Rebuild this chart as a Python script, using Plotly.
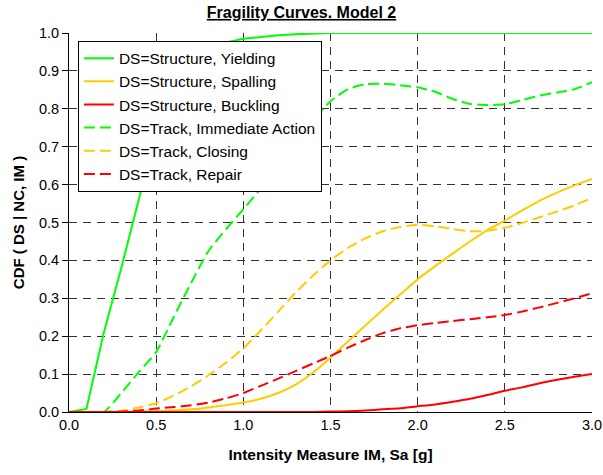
import plotly.graph_objects as go

im = [round(i * 0.1, 1) for i in range(31)]

yielding = [0, 0.008, 0.21, 0.38, 0.56, 0.74, 0.85, 0.92, 0.955, 0.975, 0.985, 0.99, 0.994, 0.997, 0.999, 1.0,
            1.0, 1.0, 1.0, 1.0, 1.0, 1.0, 1.0, 1.0, 1.0, 1.0, 1.0, 1.0, 1.0, 1.0, 1.0]
spalling = [0, 0, 0, 0, 0.001, 0.002, 0.004, 0.007, 0.012, 0.018, 0.025, 0.035, 0.05, 0.072, 0.104, 0.143,
            0.186, 0.228, 0.27, 0.31, 0.35, 0.385, 0.418, 0.45, 0.48, 0.505, 0.532, 0.558, 0.579, 0.598, 0.615]
buckling = [0, 0, 0, 0, 0, 0, 0, 0, 0, 0, 0, 0, 0, 0, 0, 0.001,
            0.002, 0.004, 0.007, 0.01, 0.015, 0.02, 0.027, 0.035, 0.045, 0.056, 0.065, 0.076, 0.085, 0.093, 0.10]
immediate = [0, 0, 0, 0.05, 0.105, 0.158, 0.25, 0.34, 0.425, 0.482, 0.535, 0.59, 0.655, 0.715, 0.77, 0.82,
             0.852, 0.865, 0.866, 0.862, 0.857, 0.845, 0.826, 0.813, 0.81, 0.812, 0.823, 0.835, 0.843, 0.852, 0.87]
closing = [0, 0, 0, 0.003, 0.012, 0.023, 0.043, 0.068, 0.097, 0.13, 0.168, 0.215, 0.265, 0.315, 0.36, 0.40,
           0.433, 0.458, 0.477, 0.488, 0.494, 0.49, 0.483, 0.477, 0.478, 0.486, 0.499, 0.514, 0.529, 0.545, 0.565]
repair = [0, 0, 0, 0.001, 0.004, 0.009, 0.013, 0.018, 0.025, 0.036, 0.05, 0.069, 0.088, 0.108, 0.128, 0.148,
          0.17, 0.19, 0.208, 0.221, 0.229, 0.235, 0.24, 0.245, 0.25, 0.256, 0.265, 0.276, 0.288, 0.30, 0.313]

series = [
    ("DS=Structure, Yielding", yielding, "#00FF00", "solid", "linear"),
    ("DS=Structure, Spalling", spalling, "#FFCC00", "solid", "spline"),
    ("DS=Structure, Buckling", buckling, "#FF0000", "solid", "spline"),
    ("DS=Track, Immediate Action", immediate, "#00FF00", "11px,5px", "spline"),
    ("DS=Track, Closing", closing, "#FFCC00", "11px,5px", "spline"),
    ("DS=Track, Repair", repair, "#FF0000", "11px,5px", "spline"),
]

FONT = "Arial, Liberation Sans, sans-serif"

fig = go.Figure()
for name, ys, col, dash, shape in series:
    line = dict(color=col, width=2, dash=dash, shape=shape)
    if shape == "spline":
        line["smoothing"] = 0.5
    fig.add_trace(go.Scatter(x=im, y=ys, name=name, mode="lines", line=line))

fig.update_layout(
    width=603, height=475,
    margin=dict(l=69, r=11, t=33, b=63),
    paper_bgcolor="white", plot_bgcolor="white",
    font=dict(family=FONT, size=14.5, color="black"),
    title=dict(text="<b><u>Fragility Curves. Model 2</u></b>", x=0.5, xanchor="center",
               yref="container", y=0.974, yanchor="middle", font=dict(size=16, family=FONT)),
    legend=dict(x=0.017, y=0.98, xanchor="left", yanchor="top",
                bgcolor="white", bordercolor="black", borderwidth=1,
                font=dict(size=15.5, family=FONT), itemwidth=30, tracegroupgap=0),
    showlegend=True,
)
fig.update_xaxes(range=[0, 3], tickvals=[0, 0.5, 1, 1.5, 2, 2.5, 3], tickformat=".1f",
                 showline=True, linecolor="black", linewidth=1, mirror=False,
                 showgrid=True, gridcolor="#333", griddash="8px,6px", gridwidth=1,
                 ticks="", zeroline=False, automargin=False,
                 title=dict(text="<b>Intensity Measure IM, Sa [g]</b>", font=dict(size=15.5), standoff=16),
                 tickfont=dict(size=14.5))
fig.update_yaxes(range=[0, 1], dtick=0.1, tickformat=".1f",
                 showline=True, linecolor="black", linewidth=1, mirror=False,
                 showgrid=True, gridcolor="#333", griddash="8px,6px", gridwidth=1,
                 ticks="outside", ticklen=6, tickcolor="black", zeroline=False, automargin=False,
                 title=dict(text="<b>CDF ( DS | NC, IM )</b>", font=dict(size=15), standoff=10),
                 tickfont=dict(size=14.5))

fig.write_html("out.html")
